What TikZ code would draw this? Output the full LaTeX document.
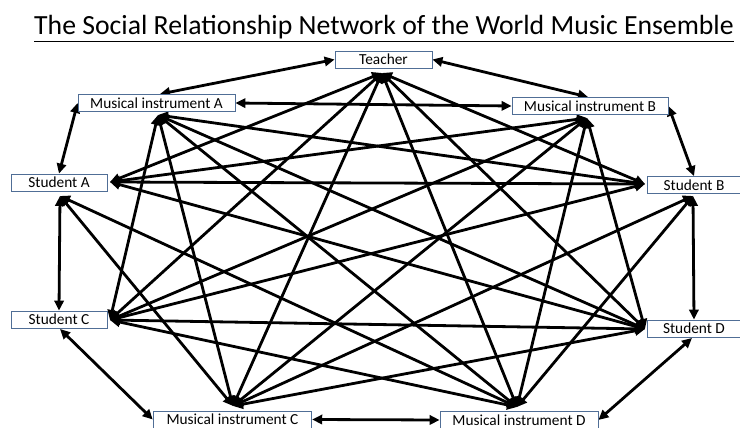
\documentclass[tikz,border=0pt]{standalone}
\usepackage{fontspec}
\setmainfont{Carlito}
\usetikzlibrary{arrows.meta,backgrounds}
\definecolor{boxc}{RGB}{80,110,150}
\begin{document}
\begin{tikzpicture}[x=0.75pt,y=-0.75pt,
  box/.style={draw=boxc, line width=0.6pt, fill=white, inner sep=0pt,
    minimum height=12.75pt, font=\fontsize{11.5}{12}\selectfont},
  link/.style={line width=2.1pt,
    {Triangle[length=7.5pt,width=7pt]}-{Triangle[length=7.5pt,width=7pt]}},
]
\useasboundingbox (0,0) rectangle (740,428);

\node[anchor=base, font=\fontsize{20.8}{24}\selectfont] (title) at (384,35)
  {\underline{The Social Relationship Network of the World Music Ensemble}};

\node[box, minimum width=72.75pt]  (T)  at (383.5,59.5) {Teacher};
\node[box, minimum width=117.75pt] (MA) at (156.5,103)  {Musical instrument A};
\node[box, minimum width=117pt]    (MB) at (590,106)    {Musical instrument B};
\node[box, minimum width=72pt]     (SA) at (59,182.5)   {Student A};
\node[box, minimum width=70.5pt]   (SB) at (694,185)    {Student B};
\node[box, minimum width=72pt]     (SC) at (59,319.5)   {Student C};
\node[box, minimum width=70.5pt]   (SD) at (694,328.5)  {Student D};
\node[box, minimum width=119pt]    (MC) at (232.5,419.5) {Musical instrument C};
\node[box, minimum width=118.5pt]  (MD) at (519,420)    {Musical instrument D};

% hub points
\coordinate (Th)  at (382,73);
\coordinate (Ah)  at (158,115);
\coordinate (Bh)  at (587,118);
\coordinate (SAr) at (110,182);
\coordinate (SAb) at (60,196);
\coordinate (SBl) at (645,184);
\coordinate (SBb) at (693,196);
\coordinate (SCr) at (110,320);
\coordinate (SCb) at (60,329);
\coordinate (SDl) at (645,329);
\coordinate (SDb) at (692,338);
\coordinate (Ch)  at (233,406);
\coordinate (Dh)  at (517,407);
\coordinate (Atop) at (160,94);
\coordinate (Btop) at (588,97);

\begin{pgfonlayer}{background}
% outer ring
\draw[link] (T.west) -- (Atop);
\draw[link] (T.east) -- (Btop);
\draw[link] (MA.east) -- (MB.west);
\draw[link] (MA.west) -- (SA.north);
\draw[link] (MB.east) -- (SB.north);
\draw[link] (SAb) -- (SC.north);
\draw[link] (SBb) -- (SD.north);
\draw[link] (SCb) -- (MC.west);
\draw[link] (SDb) -- (MD.east);
\draw[link] (MC.east) -- (MD.west);
% teacher
\draw[link] (Th) -- (SAr);
\draw[link] (Th) -- (SBl);
\draw[link] (Th) -- (SCr);
\draw[link] (Th) -- (SDl);
\draw[link] (Th) -- (Ch);
\draw[link] (Th) -- (Dh);
% instrument A
\draw[link] (Ah) -- (SBl);
\draw[link] (Ah) -- (SCr);
\draw[link] (Ah) -- (SDl);
\draw[link] (Ah) -- (Ch);
\draw[link] (Ah) -- (Dh);
% instrument B
\draw[link] (Bh) -- (SAr);
\draw[link] (Bh) -- (SCr);
\draw[link] (Bh) -- (SDl);
\draw[link] (Bh) -- (Ch);
\draw[link] (Bh) -- (Dh);
% student A
\draw[link] (SAr) -- (SBl);
\draw[link] (SAr) -- (SDl);
\draw[link] (SAb) -- (Ch);
\draw[link] (SAb) -- (Dh);
% student B
\draw[link] (SBl) -- (SCr);
\draw[link] (SBb) -- (Ch);
\draw[link] (SBb) -- (Dh);
% student C
\draw[link] (SCr) -- (SDl);
\draw[link] (SCr) -- (Dh);
% student D
\draw[link] (SDl) -- (Ch);
\end{pgfonlayer}
\end{tikzpicture}
\end{document}
